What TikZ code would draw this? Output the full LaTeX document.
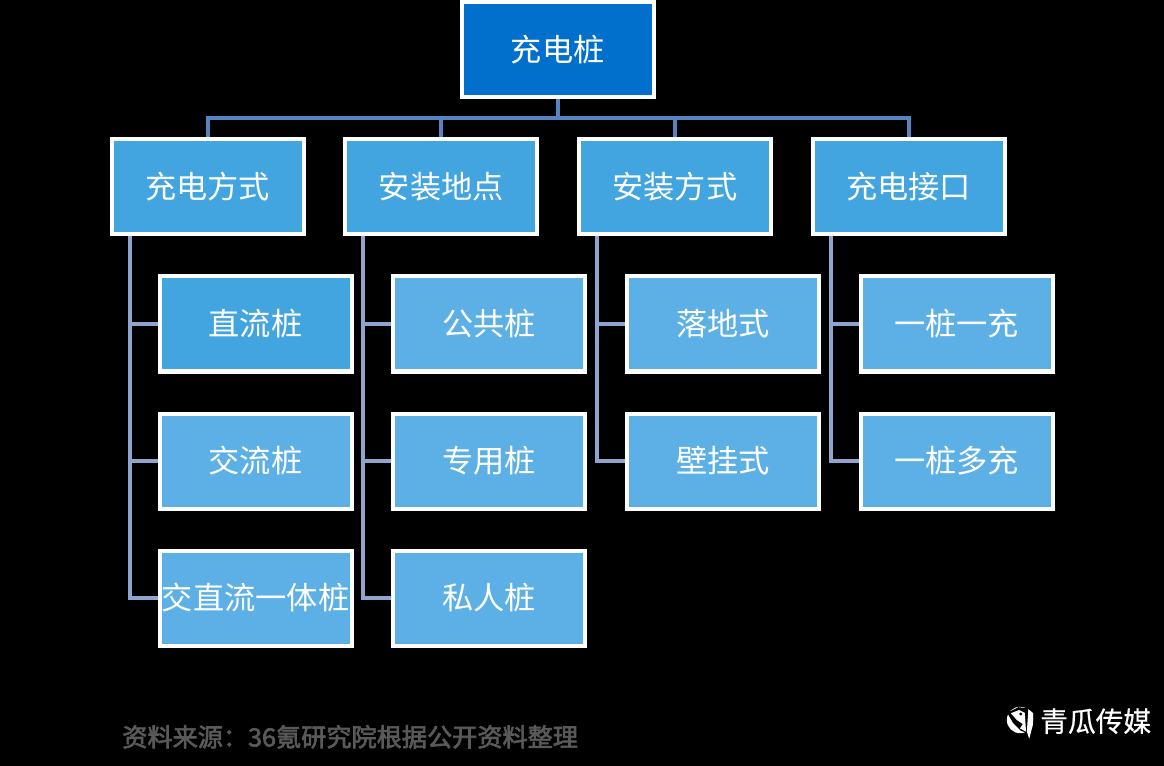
\documentclass[tikz,border=0pt]{standalone}
\usepackage{fontspec}
\usepackage{xcolor}
\usetikzlibrary{positioning,calc}
\setmainfont{Noto Sans CJK SC}
\newfontfamily\sourcefont[FakeBold=2.5]{Noto Sans CJK SC}
\newfontfamily\brandfont[FakeBold=0.6]{Noto Sans CJK SC}
\definecolor{rootblue}{HTML}{0070CC}
\definecolor{branchblue}{HTML}{42A5E0}
\definecolor{leafblue}{HTML}{5CB0E6}
\definecolor{buslink}{HTML}{5585C0}
\definecolor{leaflink}{HTML}{8EA5CF}
\definecolor{sourcegray}{HTML}{595959}
\tikzset{
  pilebox/.style={draw=white, line width=0.1cm, text=white, minimum width=4.8cm, minimum height=2.375cm, inner sep=0pt, font=\fontsize{22.2pt}{26pt}\selectfont},
  rootbox/.style={pilebox, fill=rootblue},
  branchbox/.style={pilebox, fill=branchblue},
  leafbox/.style={pilebox, fill=leafblue},
  busline/.style={draw=buslink, line width=0.1cm},
  leafline/.style={draw=leaflink, line width=0.1cm}
}
\begin{document}
\begin{tikzpicture}[node distance=0.95cm]
        \fill[black] (0,0) rectangle (29.1,-19.15);
        \useasboundingbox (0,0) rectangle (29.1,-19.15);
        \node[rootbox] (root) at (13.94,-1.25) {充电桩};
        \node[branchbox, below=of root, xshift=-8.75cm] (way) {充电方式};
        \node[branchbox, right=0.942cm of way] (place) {安装地点};
        \node[branchbox, right=0.942cm of place] (mount) {安装方式};
        \node[branchbox, right=0.942cm of mount] (port) {充电接口};
        % first column
        \node[branchbox, below=of way, xshift=1.2cm] (dc) {直流桩};
        \node[leafbox, below=of dc] (ac) {交流桩};
        \node[leafbox, below=of ac] (acdc) {交直流一体桩};
        % second column
        \node[leafbox, below=of place, xshift=1.2cm] (public) {公共桩};
        \node[leafbox, below=of public] (special) {专用桩};
        \node[leafbox, below=of special] (private) {私人桩};
        % third column
        \node[leafbox, below=of mount, xshift=1.2cm] (floor) {落地式};
        \node[leafbox, below=of floor] (wall) {壁挂式};
        % fourth column
        \node[leafbox, below=of port, xshift=1.2cm] (single) {一桩一充};
        \node[leafbox, below=of single] (multi) {一桩多充};
        % connectors
        \coordinate (bus) at ([yshift=-0.475cm]root.south);
        \draw[busline] (root.south) -- (bus) -| (way.north);
        \draw[busline] (bus) -| (place.north);
        \draw[busline] (bus) -| (mount.north);
        \draw[busline] (bus) -| (port.north);
        \foreach \branch/\leaves in {way/{dc,ac,acdc}, place/{public,special,private}, mount/{floor,wall}, port/{single,multi}} {
          \coordinate (trunk) at ([xshift=0.5cm]\branch.south west);
          \foreach \leaf in \leaves {
            \draw[leafline] (trunk) |- (\leaf.west);
          }
        }
        % footer
        \node[text=sourcegray, font=\fontsize{17.9pt}{20pt}\selectfont\sourcefont, anchor=west, inner sep=0pt] (source) at (3.05,-18.42) {资料来源：36氪研究院根据公开资料整理};
        \node[text=white, font=\fontsize{19.7pt}{22pt}\selectfont\brandfont, anchor=west, inner sep=0pt] (brand) at (26,-18.03) {青瓜传媒};
        % bird logo
        \fill[white] (25.5,-18) circle (0.33);
        \fill[black] (25.18,-17.82) -- (25.46,-17.68) -- (25.71,-17.71) -- (25.71,-18.33) -- (25.52,-18.27) -- (25.33,-18.08) -- cycle;
        \fill[white] (25.27,-17.83) -- (25.48,-17.75) -- (25.62,-17.82) -- (25.65,-18.29) -- (25.5,-18.21) -- (25.57,-18.1) -- (25.42,-18) -- cycle;
        \fill[white] (25.71,-17.73) -- (25.83,-17.83) -- (25.82,-18.13) -- (25.73,-18.47) -- (25.67,-18.29) -- cycle;
        \fill[black] (25.52,-17.85) circle (0.04);
\end{tikzpicture}
\end{document}
